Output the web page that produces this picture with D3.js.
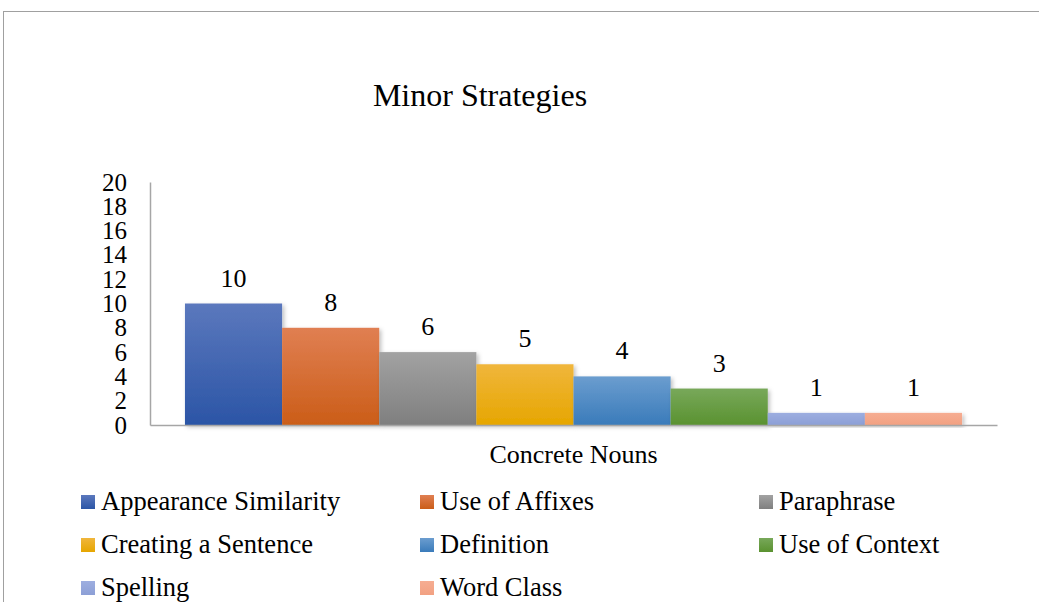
<!DOCTYPE html>
<html>
<head>
<meta charset="utf-8">
<script src="https://cdn.jsdelivr.net/npm/d3@7"></script>
<style>
  body { margin: 0; background: #fff; }
</style>
</head>
<body>
<svg width="1039" height="602"></svg>
<script>
const FONT = '"Liberation Serif", "Times New Roman", serif';

const category = 'Concrete Nouns';
const strategies = ['Appearance Similarity', 'Use of Affixes', 'Paraphrase', 'Creating a Sentence',
  'Definition', 'Use of Context', 'Spelling', 'Word Class'];
const counts = [10, 8, 6, 5, 4, 3, 1, 1];
const yTicks = [0, 2, 4, 6, 8, 10, 12, 14, 16, 18, 20];
const colors = [
  ['#5b78bd', '#2b55a6'],
  ['#e07f52', '#cb5d18'],
  ['#a2a2a2', '#7f7f7f'],
  ['#f0b63c', '#e6a600'],
  ['#6b9dcf', '#3a7bba'],
  ['#78a85a', '#5a9230'],
  ['#9daee0', '#8c9fd6'],
  ['#f6ad92', '#f2a182']
];

const svg = d3.select('svg');
const defs = svg.append('defs');

// gradients for bars and legend swatches
colors.forEach((c, i) => {
  const g = defs.append('linearGradient')
    .attr('id', 'grad' + i)
    .attr('x1', 0).attr('y1', 0).attr('x2', 0).attr('y2', 1);
  g.append('stop').attr('offset', '0%').attr('stop-color', c[0]);
  g.append('stop').attr('offset', '100%').attr('stop-color', c[1]);
});

const shadow = defs.append('filter').attr('id', 'shadow')
  .attr('x', '-10%').attr('y', '-10%').attr('width', '130%').attr('height', '130%');
shadow.append('feDropShadow')
  .attr('dx', 2).attr('dy', 2).attr('stdDeviation', 2)
  .attr('flood-color', '#000').attr('flood-opacity', 0.25);

// outer frame
svg.append('rect')
  .attr('x', 3.5).attr('y', 11.5)
  .attr('width', 1100).attr('height', 700)
  .attr('fill', 'none').attr('stroke', '#a0a0a0').attr('stroke-width', 1);

svg.append('text')
  .attr('x', 480).attr('y', 106)
  .attr('text-anchor', 'middle')
  .attr('font-family', FONT)
  .attr('font-size', 32)
  .attr('fill', '#000')
  .text('Minor Strategies');

const plotLeft = 150, plotRight = 997, plotTop = 182, plotBottom = 425;

const y = d3.scaleLinear().domain([0, 20]).range([plotBottom, plotTop]);
const x0 = d3.scaleBand().domain([category]).range([plotLeft, plotRight]).paddingInner(0).paddingOuter(0.045);
const x1 = d3.scaleBand().domain(strategies).range([0, x0.bandwidth()]);

// y axis
const yAxis = svg.append('g')
  .attr('transform', `translate(${plotLeft},0)`)
  .call(d3.axisLeft(y).tickValues(yTicks).tickSize(0).tickPadding(23).tickFormat(d3.format('d')));
yAxis.select('.domain').attr('stroke', '#a6a6a6').attr('stroke-width', 1.5);
yAxis.selectAll('text')
  .attr('font-size', 25)
  .attr('font-family', FONT)
  .attr('fill', '#000');

// bars
const group = svg.append('g').attr('transform', `translate(${x0(category)},0)`);
group.selectAll('rect')
  .data(counts)
  .enter()
  .append('rect')
  .attr('x', (d, i) => x1(strategies[i]))
  .attr('y', d => y(d))
  .attr('width', x1.bandwidth())
  .attr('height', d => y(0) - y(d))
  .attr('fill', (d, i) => `url(#grad${i})`)
  .attr('filter', 'url(#shadow)');

group.selectAll('text.val')
  .data(counts)
  .enter()
  .append('text')
  .attr('class', 'val')
  .attr('x', (d, i) => x1(strategies[i]) + x1.bandwidth() / 2)
  .attr('y', d => y(d) - 17)
  .attr('text-anchor', 'middle')
  .attr('font-family', FONT)
  .attr('font-size', 26)
  .attr('fill', '#000')
  .text(d => d);

// x axis
const xAxis = svg.append('g')
  .attr('transform', `translate(0,${plotBottom})`)
  .call(d3.axisBottom(x0).tickSize(0).tickPadding(0));
xAxis.select('.domain').attr('stroke', '#a6a6a6').attr('stroke-width', 1.5);
xAxis.selectAll('text')
  .attr('dy', null)
  .attr('y', 38)
  .attr('font-size', 26)
  .attr('font-family', FONT)
  .attr('fill', '#000');

// legend
const legendCols = [81, 420, 759];
const legendRows = [510, 553, 596];
const legend = svg.append('g').selectAll('g')
  .data(strategies)
  .enter()
  .append('g')
  .attr('transform', (d, i) => `translate(${legendCols[i % 3]},${legendRows[Math.floor(i / 3)]})`);
legend.append('rect')
  .attr('x', 0).attr('y', -15)
  .attr('width', 14).attr('height', 14)
  .attr('fill', (d, i) => `url(#grad${i})`);
legend.append('text')
  .attr('x', 20).attr('y', 0)
  .attr('font-family', FONT)
  .attr('font-size', 26.5)
  .attr('fill', '#000')
  .text(d => d);
</script>
</body>
</html>
